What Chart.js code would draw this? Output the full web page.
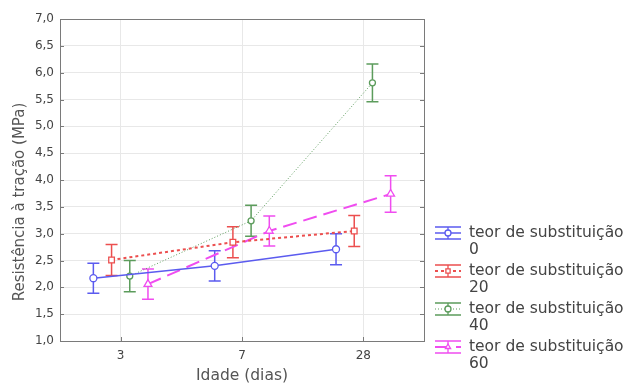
<!DOCTYPE html>
<html lang="pt">
<head>
    <meta charset="UTF-8">
    <title>Resistência à tração</title>
    <script src="https://cdn.jsdelivr.net/npm/chart.js"></script>
    <style>
        body { margin: 0; background: #fff; }
        canvas { display: block; }
    </style>
</head>
<body>
<canvas id="grafico" width="624" height="385"></canvas>
<script>
    // dados
    const idades = ['3', '7', '28'];
    const teores = ['0', '20', '40', '60'];
    const media0 = [2.17, 2.40, 2.71];
    const media20 = [2.51, 2.84, 3.05];
    const media40 = [2.21, 3.24, 5.81];
    const media60 = [2.06, 3.05, 3.74];
    const erro0 = [0.28, 0.28, 0.29];
    const erro20 = [0.29, 0.29, 0.29];
    const erro40 = [0.29, 0.29, 0.35];
    const erro60 = [0.28, 0.28, 0.34];

    const medias = [media0, media20, media40, media60];
    const erros = [erro0, erro20, erro40, erro60];
    const cores = ['#5b5bef', '#ec4f4f', '#5c9c5c', '#f04cf0'];
    const tracos = [[], [3, 3], [1, 2], [14, 7]];
    const larguras = [1.5, 2, 1, 2];
    const marcadores = ['circle', 'rect', 'circle', 'triangle'];
    const raios = [3.5, 4, 3, 4.5];
    const deslocamentos = [-0.225, -0.075, 0.075, 0.225];
    const fonte = '"DejaVu Sans", sans-serif';

    const datasets = teores.map((t, s) => ({
        label: 'teor de substituição ' + t,
        data: medias[s].map((v, i) => ({ x: i + deslocamentos[s], y: v })),
        erros: erros[s],
        borderColor: cores[s],
        borderWidth: larguras[s],
        borderDash: tracos[s],
        pointStyle: marcadores[s],
        pointRadius: raios[s],
        pointBackgroundColor: '#fff',
        pointBorderColor: cores[s],
        pointBorderWidth: 1.3,
        showLine: true,
        tension: 0
    }));

    // barras de erro
    const barrasErro = {
        id: 'barrasErro',
        beforeDatasetsDraw(chart) {
            const ctx = chart.ctx;
            const y = chart.scales.y;
            chart.data.datasets.forEach((ds, s) => {
                const meta = chart.getDatasetMeta(s);
                ctx.save();
                ctx.strokeStyle = ds.borderColor;
                ctx.lineWidth = 1.5;
                meta.data.forEach((pt, i) => {
                    const v = ds.data[i].y, e = ds.erros[i];
                    const yHi = y.getPixelForValue(v + e);
                    const yLo = y.getPixelForValue(v - e);
                    ctx.beginPath();
                    ctx.moveTo(pt.x, yHi); ctx.lineTo(pt.x, yLo);
                    ctx.moveTo(pt.x - 6, yHi); ctx.lineTo(pt.x + 6, yHi);
                    ctx.moveTo(pt.x - 6, yLo); ctx.lineTo(pt.x + 6, yLo);
                    ctx.stroke();
                });
                ctx.restore();
            });
        }
    };

    // moldura da área do gráfico com marcas internas e título do eixo y
    const moldura = {
        id: 'moldura',
        afterDraw(chart) {
            const { ctx, chartArea: a, scales } = chart;
            ctx.save();
            ctx.strokeStyle = '#7a7a7a';
            ctx.lineWidth = 1;
            ctx.strokeRect(a.left + 0.5, a.top + 0.5, a.right - a.left, a.bottom - a.top);
            ctx.beginPath();
            scales.y.ticks.forEach(t => {
                const py = Math.round(scales.y.getPixelForValue(t.value)) + 0.5;
                ctx.moveTo(a.left, py); ctx.lineTo(a.left + 4, py);
                ctx.moveTo(a.right - 4, py); ctx.lineTo(a.right, py);
            });
            scales.x.ticks.forEach(t => {
                const px = Math.round(scales.x.getPixelForValue(t.value)) + 0.5;
                ctx.moveTo(px, a.bottom); ctx.lineTo(px, a.bottom - 4);
            });
            ctx.stroke();
            ctx.translate(20, 202);
            ctx.rotate(-Math.PI / 2);
            ctx.fillStyle = '#555';
            ctx.font = '15px ' + fonte;
            ctx.textAlign = 'center';
            ctx.textBaseline = 'middle';
            ctx.fillText('Resistência à tração (MPa)', 0, 0);
            ctx.restore();
        }
    };

    // legenda à direita
    const legenda = {
        id: 'legenda',
        afterDraw(chart) {
            const ctx = chart.ctx;
            const x0 = 435, x1 = 461, xc = 448, xt = 469;
            ctx.save();
            chart.data.datasets.forEach((ds, s) => {
                const y = 233 + s * 38;
                ctx.strokeStyle = ds.borderColor;
                ctx.lineWidth = 1.3;
                ctx.setLineDash([]);
                ctx.beginPath();
                ctx.moveTo(x0, y - 6); ctx.lineTo(x1, y - 6);
                ctx.moveTo(x0, y + 6); ctx.lineTo(x1, y + 6);
                ctx.moveTo(xc, y - 6); ctx.lineTo(xc, y + 6);
                ctx.stroke();
                ctx.setLineDash(ds.borderDash);
                ctx.lineWidth = ds.borderWidth;
                ctx.beginPath();
                ctx.moveTo(x0, y); ctx.lineTo(x1, y);
                ctx.stroke();
                ctx.setLineDash([]);
                ctx.lineWidth = 1.3;
                ctx.fillStyle = '#fff';
                Chart.helpers.drawPoint(ctx, {
                    pointStyle: ds.pointStyle, radius: 3, borderWidth: 1.3
                }, xc, y);
                ctx.fillStyle = '#444';
                ctx.font = '15.5px ' + fonte;
                ctx.textBaseline = 'middle';
                ctx.fillText('teor de substituição', xt, y);
                ctx.fillText(teores[s], xt, y + 17);
            });
            ctx.restore();
        }
    };

    new Chart(document.getElementById('grafico').getContext('2d'), {
        type: 'scatter',
        data: { datasets },
        plugins: [barrasErro, moldura, legenda],
        options: {
            responsive: false,
            animation: false,
            layout: { padding: { top: 19, right: 200, left: 0, bottom: 0 } },
            plugins: { legend: { display: false }, tooltip: { enabled: false } },
            scales: {
                x: {
                    type: 'linear',
                    min: -0.5,
                    max: 2.5,
                    afterFit: s => { s.height = 44; },
                    afterBuildTicks: s => { s.ticks = idades.map((_, i) => ({ value: i })); },
                    ticks: {
                        callback: v => idades[v],
                        color: '#444',
                        font: { family: fonte, size: 12 },
                        padding: 8
                    },
                    grid: { color: '#e8e8e8', drawTicks: false },
                    border: { display: false },
                    title: {
                        display: true,
                        text: 'Idade (dias)',
                        color: '#555',
                        font: { family: fonte, size: 15.5 },
                        padding: { top: 6, bottom: 0 }
                    }
                },
                y: {
                    min: 1,
                    max: 7,
                    afterFit: s => { s.width = 60; },
                    ticks: {
                        stepSize: 0.5,
                        callback: v => v.toFixed(1).replace('.', ','),
                        color: '#444',
                        font: { family: fonte, size: 12 },
                        padding: 6
                    },
                    grid: { color: '#e8e8e8', drawTicks: false },
                    border: { display: false }
                }
            }
        }
    });
</script>
</body>
</html>
